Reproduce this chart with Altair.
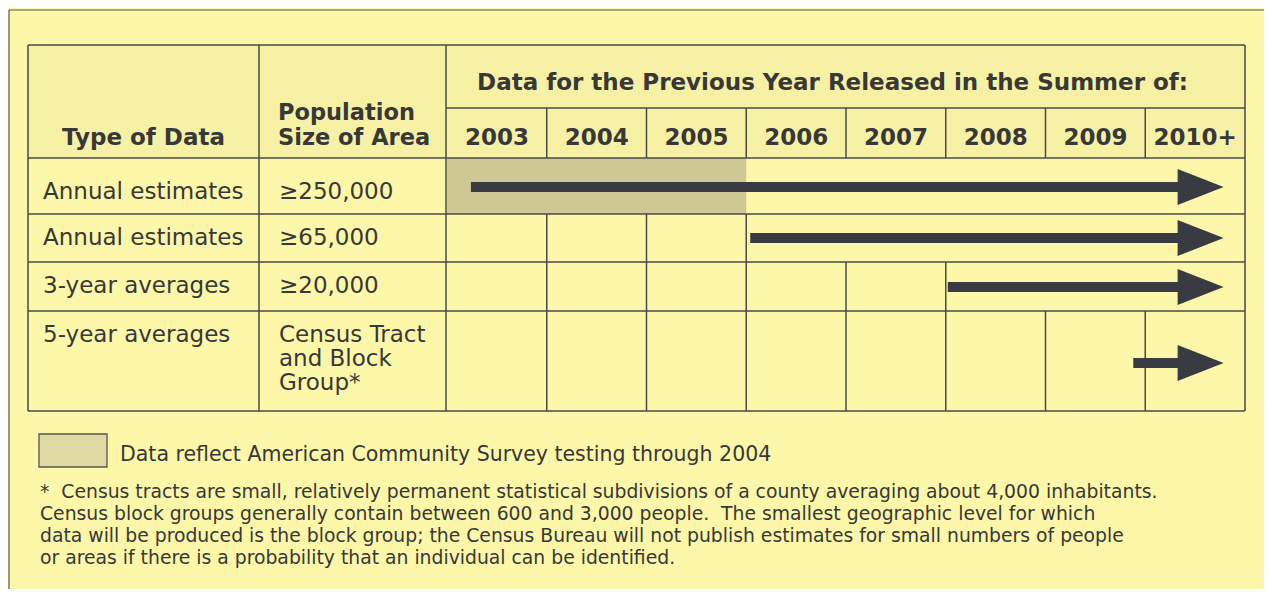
import altair as alt
import pandas as pd

# ---------------- data ----------------
type_of_data = ["Annual estimates", "Annual estimates", "3-year averages", "5-year averages"]
population_size = [["≥250,000"], ["≥65,000"], ["≥20,000"], ["Census Tract", "and Block", "Group*"]]
year_labels = ["2003", "2004", "2005", "2006", "2007", "2008", "2009", "2010+"]
year_values = [2003, 2004, 2005, 2006, 2007, 2008, 2009, 2010]
first_release_year = [2003, 2006, 2008, 2010]
arrow_start = [2003.24, 2006.04, 2008.02, 2009.88]
arrow_head_base = 2010.34
arrow_tip = 2010.77
testing_span = [2003, 2006]
header_title = "Data for the Previous Year Released in the Summer of:"
col_header_1 = ["Type of Data"]
col_header_2 = ["Population", "Size of Area"]
legend_text = "Data reflect American Community Survey testing through 2004"
footnote_lines = [
    "*\u00a0 Census tracts are small, relatively permanent statistical subdivisions of a county averaging about 4,000 inhabitants.",
    "Census block groups generally contain between 600 and 3,000 people.\u00a0 The smallest geographic level for which",
    "data will be produced is the block group; the Census Bureau will not publish estimates for small numbers of people",
    "or areas if there is a probability that an individual can be identified.",
]

# ---------------- layout (table geometry, in page pixels) ----------------
W, H = 1256, 581
YEAR_W = 99.75          # pixel width of one year column
YEAR_X0 = 447           # pixel position of the 2003 column's left edge


def xu(px):
    """page pixel -> year units of the x scale"""
    return 2003 + (px - YEAR_X0) / YEAR_W


TABLE_L, COL1, COL2, TABLE_R = xu(28), xu(259), xu(446), 2011
T_TOP, T_MID, T_HEAD = 45, 108, 158
ROW_TOP = [158, 214, 262, 311]
ROW_BOT = [214, 262, 311, 411]
ROW_TEXT_BASE = [199, 245, 293, 342]
ARROW_Y = [187, 238, 287, 363]
LINE_GAP = 24

BG = "#fcf7a9"
INK = "#383838"
LINE = "#4a4a48"
ARROW = "#3a3a42"
FONT = "DejaVu Sans"

xs = alt.Scale(domain=[xu(8), xu(8 + W)], range=[0, W], nice=False, zero=False)
ys = alt.Scale(domain=[8, 8 + H], range=[0, H], nice=False, zero=False)


def X(f):
    return alt.X(f, type="quantitative", scale=xs, axis=None)


def Y(f):
    return alt.Y(f, type="quantitative", scale=ys, axis=None)


# ---------------- background pieces ----------------
rects = pd.DataFrame([
    {"x1": TABLE_L, "x2": TABLE_R, "y1": T_TOP, "y2": T_HEAD, "c": "#f7f1a5"},
    {"x1": testing_span[0], "x2": testing_span[1], "y1": ROW_TOP[0], "y2": ROW_BOT[0], "c": "#cdc894"},
])
rect_layer = alt.Chart(rects).mark_rect(strokeWidth=0).encode(
    x=X("x1"), x2="x2", y=Y("y1"), y2="y2", color=alt.Color("c:N", scale=None)
)

legend_box = alt.Chart(pd.DataFrame([{"x1": xu(39), "x2": xu(107), "y1": 434, "y2": 467}])).mark_rect(
    fill="#dfdaa4", stroke="#555550", strokeWidth=1.3
).encode(x=X("x1"), x2="x2", y=Y("y1"), y2="y2")

# ---------------- grid lines ----------------
segs = []
for yv in [T_TOP, T_HEAD] + ROW_BOT:
    segs.append({"x1": TABLE_L, "x2": TABLE_R, "y1": yv, "y2": yv})
segs.append({"x1": COL2, "x2": TABLE_R, "y1": T_MID, "y2": T_MID})
for xv in [TABLE_L, COL1, COL2, TABLE_R]:
    segs.append({"x1": xv, "x2": xv, "y1": T_TOP, "y2": ROW_BOT[-1]})
for yr in year_values[1:]:
    segs.append({"x1": yr, "x2": yr, "y1": T_MID, "y2": T_HEAD})
for i, fy in enumerate(first_release_year):
    for yr in range(2004, fy + 1):
        segs.append({"x1": yr, "x2": yr, "y1": ROW_TOP[i], "y2": ROW_BOT[i]})
grid = alt.Chart(pd.DataFrame(segs)).mark_rule(color=LINE, strokeWidth=1.5).encode(
    x=X("x1"), x2="x2", y=Y("y1"), y2="y2"
)

# outer frame of the page
frame = alt.Chart(pd.DataFrame([
    {"x1": xu(9), "x2": xu(8 + W), "y1": 10, "y2": 10},
    {"x1": xu(9), "x2": xu(9), "y1": 10, "y2": 8 + H},
])).mark_rule(color="#5a5a55", strokeWidth=1.2).encode(x=X("x1"), x2="x2", y=Y("y1"), y2="y2")

# ---------------- arrows ----------------
shafts = pd.DataFrame({"x1": arrow_start, "x2": [arrow_head_base + 0.05] * 4, "y": ARROW_Y})
shaft_layer = alt.Chart(shafts).mark_rule(color=ARROW, strokeWidth=10, strokeCap="butt").encode(
    x=X("x1"), x2="x2", y=Y("y")
)
heads = pd.DataFrame({"x": [(arrow_head_base + arrow_tip) / 2] * 4, "y": ARROW_Y})
head_layer = alt.Chart(heads).mark_point(
    shape="M -1 -0.78 L 1 0 L -1 0.78 Z", filled=True, size=46 * 46, color=ARROW, opacity=1, strokeWidth=0
).encode(x=X("x"), y=Y("y"))


# ---------------- text ----------------
def texts(rows, size, weight="normal", align="left"):
    return alt.Chart(pd.DataFrame(rows)).mark_text(
        font=FONT, fontSize=size, fontWeight=weight, align=align, baseline="alphabetic", color=INK
    ).encode(x=X("x"), y=Y("y"), text="t:N")


head_rows = [{"x": (TABLE_L + COL1) / 2, "y": 145, "t": col_header_1[0]}]
head_rows += [{"x": (COL2 + TABLE_R) / 2 - 0.13, "y": 90, "t": header_title}]
head_rows += [{"x": v + 0.5, "y": 145, "t": lab} for v, lab in zip(year_values, year_labels)]
head_layer_c = texts(head_rows, 23, "bold", "center")
pop_head = texts([{"x": xu(278), "y": 120 + k * 25, "t": s} for k, s in enumerate(col_header_2)], 22.5, "bold")

body_rows = []
for i, (t, pl) in enumerate(zip(type_of_data, population_size)):
    body_rows.append({"x": xu(43), "y": ROW_TEXT_BASE[i], "t": t})
    for k, s in enumerate(pl):
        body_rows.append({"x": xu(279), "y": ROW_TEXT_BASE[i] + k * LINE_GAP, "t": s})
body = texts(body_rows, 23)

legend_lbl = texts([{"x": xu(120), "y": 461, "t": legend_text}], 20.5)
FOOT_SIZE = 18.8
FOOT_GAP = 22
foot = texts([{"x": xu(40), "y": 498 + k * FOOT_GAP, "t": s} for k, s in enumerate(footnote_lines)],
             FOOT_SIZE)

chart = alt.layer(
    frame, rect_layer, legend_box, grid, shaft_layer, head_layer,
    head_layer_c, pop_head, body, legend_lbl, foot
).properties(
    width=W, height=H, padding=0, autosize="none", background=BG
).configure_view(stroke=None)

chart.save("out.html", embed_options={"renderer": "svg", "actions": False})
